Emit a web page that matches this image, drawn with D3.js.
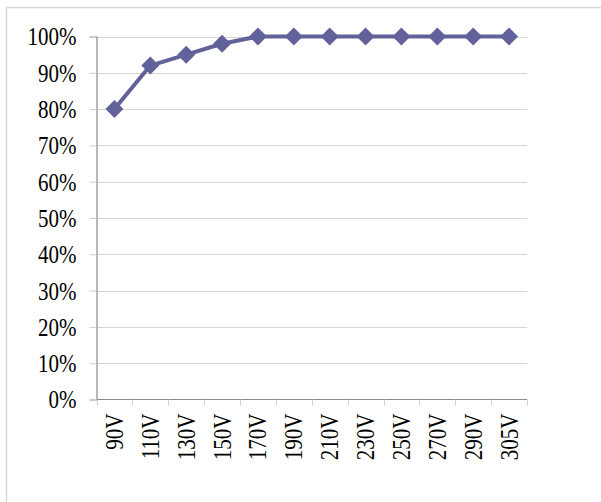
<!DOCTYPE html>
<html>
<head>
<meta charset="utf-8">
<script src="https://cdn.jsdelivr.net/npm/d3@7"></script>
<style>
html,body{margin:0;padding:0;background:#fff;}
svg{display:block;}
text{font-family:"Liberation Serif","Times New Roman",serif;fill:#000;}
</style>
</head>
<body>
<svg id="chart" width="601" height="502"></svg>
<script>
const categories = ["90V","110V","130V","150V","170V","190V","210V","230V","250V","270V","290V","305V"];
const values = [80, 92, 95, 98, 100, 100, 100, 100, 100, 100, 100, 100];
const yTicks = [0,10,20,30,40,50,60,70,80,90,100];

const svg = d3.select("#chart");
const plot = {left: 96.5, right: 527, top: 36.5, bottom: 399.5};

// outer border
svg.append("rect").attr("x", 6.5).attr("y", 7.5).attr("width", 610).attr("height", 510)
  .attr("fill", "none").attr("stroke", "#d9d9d9").attr("stroke-width", 1.5);

const x = d3.scaleBand().domain(categories).range([plot.left, plot.right]).padding(0);
const y = d3.scaleLinear().domain([0, 100]).range([plot.bottom, plot.top]);

// gridlines
svg.append("g").selectAll("line").data(yTicks.filter(t => t > 0)).join("line")
  .attr("x1", plot.left).attr("x2", plot.right)
  .attr("y1", d => Math.round(y(d)) + 0.5).attr("y2", d => Math.round(y(d)) + 0.5)
  .attr("stroke", "#d4d4d4").attr("stroke-width", 1);

// y axis
const yAxis = d3.axisLeft(y).tickValues(yTicks).tickSize(7).tickPadding(13).tickFormat(d => d + "%");
const gy = svg.append("g").attr("transform", `translate(${plot.left},0)`).call(yAxis);
gy.select(".domain").attr("stroke", "#8a8a8a").attr("stroke-width", 1.2);
gy.selectAll(".tick line").attr("stroke", "#cfcfcf");
gy.selectAll(".tick text").style("font-size", "21px").attr("dy", "0.33em")
  .attr("transform", "scale(1,1.22)")
  .style("font-family", "'Liberation Serif', serif").attr("fill", "#000");

// x axis
const gx = svg.append("g").attr("transform", `translate(0,${plot.bottom})`);
gx.append("line").attr("x1", plot.left).attr("x2", plot.right).attr("y1", 0).attr("y2", 0)
  .attr("stroke", "#8a8a8a").attr("stroke-width", 1.2);
const bounds = categories.map(c => x(c)).concat([plot.right]);
gx.selectAll("line.tk").data(bounds).join("line").attr("class", "tk")
  .attr("x1", d => Math.round(d) + 0.5).attr("x2", d => Math.round(d) + 0.5)
  .attr("y1", 0).attr("y2", 6).attr("stroke", "#cfcfcf");
gx.selectAll("text").data(categories).join("text")
  .attr("transform", d => `translate(${x(d) + x.bandwidth() / 2},14) rotate(-90) scale(1,1.22)`)
  .attr("text-anchor", "end").attr("dy", "0.33em")
  .style("font-size", "21px")
  .text(d => d);

// line
const color = "#62629a";
const line = d3.line().x((d, i) => x(categories[i]) + x.bandwidth() / 2).y(d => y(d));
svg.append("path").datum(values).attr("d", line)
  .attr("fill", "none").attr("stroke", color).attr("stroke-width", 4).attr("stroke-linejoin", "round");

// diamond markers
svg.append("g").selectAll("path").data(values).join("path")
  .attr("transform", (d, i) => `translate(${x(categories[i]) + x.bandwidth() / 2},${y(d)})`)
  .attr("d", "M0,-9L9,0L0,9L-9,0Z")
  .attr("fill", color);
</script>
</body>
</html>
